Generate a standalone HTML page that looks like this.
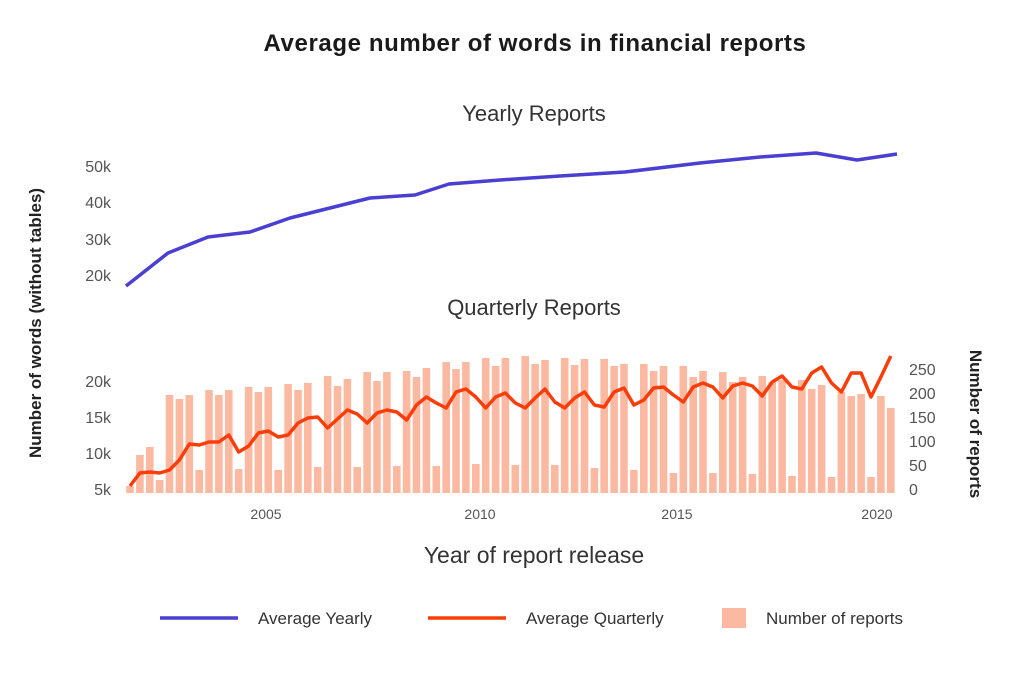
<!DOCTYPE html>
<html><head><meta charset="utf-8"><style>
html,body{margin:0;padding:0;background:#fff;}
svg{display:block;font-family:"Liberation Sans",sans-serif;}
</style></head><body>
<svg id="s" width="1024" height="673" viewBox="0 0 1024 673" xmlns="http://www.w3.org/2000/svg">
<text x="535" y="51" text-anchor="middle" font-size="24" letter-spacing="0.6" font-weight="bold" fill="#1a1a1a">Average number of words in financial reports</text>
<text x="534" y="121" text-anchor="middle" font-size="22" fill="#333">Yearly Reports</text>
<text x="534" y="315" text-anchor="middle" font-size="22" fill="#333">Quarterly Reports</text>
<g font-size="16" fill="#555" text-anchor="end">
<text x="111" y="172">50k</text><text x="111" y="208">40k</text><text x="111" y="245">30k</text><text x="111" y="281">20k</text>
<text x="111" y="387">20k</text><text x="111" y="423">15k</text><text x="111" y="459">10k</text><text x="111" y="495">5k</text>
</g>
<g font-size="16" fill="#555">
<text x="909" y="375">250</text><text x="909" y="399">200</text><text x="909" y="423">150</text><text x="909" y="447">100</text><text x="909" y="471">50</text><text x="909" y="495">0</text>
</g>
<g font-size="14" fill="#555" text-anchor="middle">
<text x="266" y="519">2005</text><text x="480" y="519">2010</text><text x="677" y="519">2015</text><text x="877" y="519">2020</text>
</g>
<text x="534" y="563" text-anchor="middle" font-size="23" fill="#333">Year of report release</text>
<text transform="translate(41,323) rotate(-90)" text-anchor="middle" font-size="17" font-weight="bold" fill="#222">Number of words (without tables)</text>
<text transform="translate(970,424) rotate(90)" text-anchor="middle" font-size="17" font-weight="bold" fill="#222">Number of reports</text>
<g id="bars" fill="#fbb9a2"></g>
<polyline id="ql" fill="none" stroke="#fb3d0a" stroke-width="3.5" stroke-linejoin="round" points=""/>
<polyline fill="none" stroke="#4a3fd1" stroke-width="3.5" stroke-linejoin="round" points="126,286 168,253 208,237 250,232 290,218 330,208 370,198 415,195 449,184 500,180 560,176 625,172 700,163 760,157 816,153 857,160 897,154"/>
<line x1="160" y1="618" x2="238" y2="618" stroke="#4a3fd1" stroke-width="3.5"/>
<text x="258" y="624" font-size="17" fill="#333">Average Yearly</text>
<line x1="428" y1="618" x2="506" y2="618" stroke="#fb3d0a" stroke-width="3.5"/>
<text x="526" y="624" font-size="17" fill="#333">Average Quarterly</text>
<rect x="722" y="608" width="24" height="20" fill="#fbb9a2"/>
<text x="766" y="624" font-size="17" fill="#333">Number of reports</text>
</svg>
<script>
var h=[7,38,46,13,98,94,98,23,103,98,103,24,106,101,106,23,109,103,110,26,117,107,114,26,121,112,121,27,122,116,125,27,131,124,131,29,135,127,135,28,137,129,133,28,135,128,134,25,134,127,129,23,129,122,127,20,127,116,122,20,121,111,116,19,117,111,113,17,113,104,108,16,101,97,99,16,97,85];
var l=[486,473,472,473,470,460,444,445,442,442,435,452,446,433,431,437,435,423,418,417,428,419,410,414,423,413,410,412,420,405,397,403,408,392,389,397,408,397,393,403,408,398,389,402,408,398,392,405,407,392,388,405,400,388,387,395,402,387,383,387,398,386,383,386,396,382,376,387,389,373,367,383,392,373,373,397,377,356];
var g=document.getElementById('bars'),ns="http://www.w3.org/2000/svg",pts=[];
for(var i=0;i<h.length;i++){var x=130+i*9.88;var r=document.createElementNS(ns,'rect');r.setAttribute('x',(x-3.8).toFixed(1));r.setAttribute('y',(493-h[i]).toFixed(1));r.setAttribute('width','7.6');r.setAttribute('height',h[i]);g.appendChild(r);pts.push(x.toFixed(1)+','+l[i]);}
document.getElementById('ql').setAttribute('points',pts.join(' '));
</script>
</body></html>
